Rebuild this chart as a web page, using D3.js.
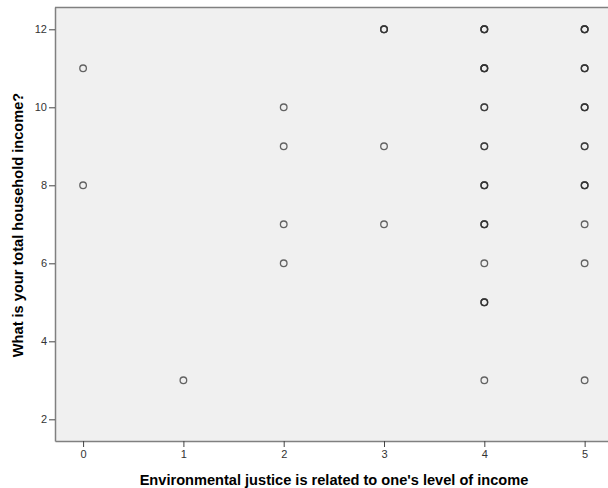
<!DOCTYPE html>
<html><head><meta charset="utf-8">
<script src="https://cdn.jsdelivr.net/npm/d3@7"></script>
<style>body{margin:0;background:#fff;} svg{display:block;}</style>
</head><body>
<script>
// Data: each point x (agreement level), y (income category), count (overlapping cases)
const xValues = [0,0, 1, 2,2,2,2, 3,3,3, 4,4,4,4,4,4,4,4,4, 5,5,5,5,5,5,5,5];
const yValues = [11,8, 3, 10,9,7,6, 12,9,7, 12,11,10,9,8,7,6,5,3, 12,11,10,9,8,7,6,3];
const counts  = [1,1, 1, 1,1,1,1, 3,1,1, 4,4,2,2,3,3,1,3,1, 4,3,3,2,3,1,1,1];
const xTicks = [0,1,2,3,4,5];
const yTicks = [2,4,6,8,10,12];
const xTitle = "Environmental justice is related to one's level of income";
const yTitle = "What is your total household income?";

const W = 608, H = 488;
const L = 55, T = 7, R = 608, B = 441;
const svg = d3.select("body").append("svg").attr("width", W).attr("height", H);
const x = d3.scaleLinear().domain([-0.28, 5.233]).range([L, R]);
const y = d3.scaleLinear().domain([1.444, 12.572]).range([B, T]);

svg.append("rect").attr("x", L).attr("y", T).attr("width", R - L).attr("height", B - T).attr("fill", "#f0f0f0");
svg.append("line").attr("x1", L).attr("x2", R).attr("y1", T + 0.5).attr("y2", T + 0.5).attr("stroke", "#808080").attr("stroke-width", 1.5);

const font = "'Liberation Sans', Arial, sans-serif";
const xa = svg.append("g").attr("transform", `translate(0,${B})`)
  .call(d3.axisBottom(x).tickValues(xTicks).tickSizeInner(6).tickSizeOuter(0).tickPadding(3).tickFormat(d3.format("d")));
const ya = svg.append("g").attr("transform", `translate(${L},0)`)
  .call(d3.axisLeft(y).tickValues(yTicks).tickSizeInner(6).tickSizeOuter(0).tickPadding(2).tickFormat(d3.format("d")));
[xa, ya].forEach(a => {
  a.select(".domain").attr("stroke", "#808080").attr("stroke-width", 1.5);
  a.selectAll(".tick line").attr("stroke", "#444");
  a.selectAll(".tick text").attr("fill", "#333").style("font-family", font).style("font-size", "11px");
});

const pts = [];
xValues.forEach((xv, i) => { for (let k = 0; k < counts[i]; k++) pts.push([xv, yValues[i]]); });
svg.append("g").selectAll("circle").data(pts).join("circle")
  .attr("cx", d => x(d[0])).attr("cy", d => y(d[1])).attr("r", 3.3)
  .attr("fill", "none").attr("stroke", "#333").attr("stroke-opacity", 0.75).attr("stroke-width", 1.3);

svg.append("text").attr("x", 334).attr("y", 485).attr("text-anchor", "middle")
  .style("font-family", font).style("font-size", "14.6px").style("font-weight", "bold").attr("fill", "#000").text(xTitle);
svg.append("text").attr("transform", `translate(23,${(T + B) / 2 + 1}) rotate(-90)`).attr("text-anchor", "middle")
  .style("font-family", font).style("font-size", "14.6px").style("font-weight", "bold").attr("fill", "#000").text(yTitle);
</script>
</body></html>
